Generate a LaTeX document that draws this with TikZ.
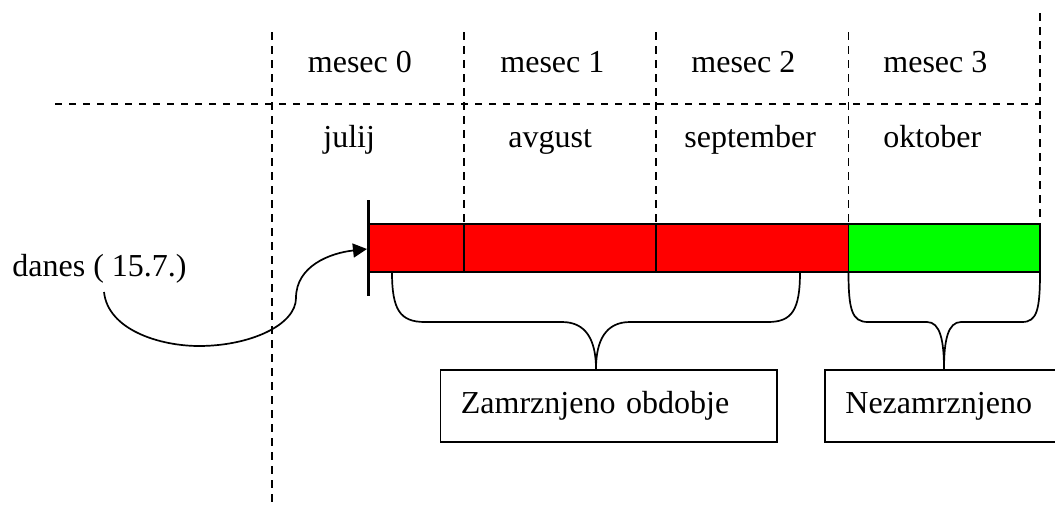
\documentclass[tikz,border=0pt]{standalone}
\usepackage{fontspec}
\setmainfont{Liberation Serif}
\usetikzlibrary{arrows.meta}
\definecolor{barred}{RGB}{255,0,0}
\definecolor{bargreen}{RGB}{0,255,0}
\begin{document}
\begin{tikzpicture}[x=0.5pt,y=-0.5pt,
  vdash/.style={line width=0.95pt, dash pattern=on 4pt off 3pt},
  hdash/.style={line width=0.95pt, dash pattern=on 3.6pt off 3.4pt},
  lbl/.style={inner sep=0pt, anchor=base west, font=\fontsize{16}{19}\selectfont},
  thin line/.style={line width=0.85pt},
  labelbox/.style={draw, line width=0.9pt, anchor=north west, minimum height=36pt,
    inner xsep=10.25pt, inner ysep=0pt, align=left, font=\fontsize{16}{19}\selectfont},
]
\useasboundingbox (0,0) rectangle (1055,509);

% grid
\draw[vdash] (272,32) -- (272,507);
\draw[vdash] (464,32) -- (464,224);
\draw[vdash] (656,32) -- (656,224);
\draw[vdash] (848.5,32) -- (848.5,224);
\draw[vdash] (1040,13) -- (1040,224);
\draw[hdash] (55,104) -- (1040,104);

% header labels
\node[lbl] (m0) at (307.5,72) {mesec 0};
\node[lbl] (m1) at (500,72) {mesec 1};
\node[lbl] (m2) at (691,72) {mesec 2};
\node[lbl] (m3) at (883,72) {mesec 3};
\node[lbl] (jul) at (323,147) {julij};
\node[lbl] (avg) at (508,147) {avgust};
\node[lbl] (sep) at (684,147) {september};
\node[lbl] (okt) at (883,147) {oktober};
\node[lbl] (danes) at (12,276) {danes ( 15.7.)};

% bar
\fill[barred] (368.5,224) rectangle (848.5,272);
\fill[bargreen] (848.5,224) rectangle (1040,272);
\draw[thin line] (368.5,224) rectangle (1040,272);
\draw[thin line] (464,224) -- (464,272);
\draw[thin line] (656,224) -- (656,272);
\draw[thin line] (848.5,224) -- (848.5,272);

% today marker
\coordinate (todayTop) at (368.5,200);
\coordinate (todayBot) at (368.5,296);
\draw[line width=1.7pt] (todayTop) -- (todayBot);

% arrow from "danes"
\coordinate (danesFoot) at (104,292);
\coordinate (todayTip) at (367,249);
\draw[thin line, -{Triangle[length=7pt,width=7pt]}] (danesFoot)
  .. controls (108,330) and (160,346) .. (199,346)
  .. controls (250,346) and (296,325) .. (296,298)
  .. controls (296,266) and (330,253) .. (todayTip);

% boxes
\node[labelbox, minimum width=168.25pt, text width=147.75pt] (zb) at (439.5,369) {Zamrznjeno obdobje};
\node[labelbox, minimum width=120pt, text width=99.5pt] (nb) at (824,369) {Nezamrznjeno};

% braces
\coordinate (tip1) at (596,369);
\coordinate (tip2) at (944,369);
\draw[thin line] (392,272) .. controls (392,310) and (400,322) .. (425,322) -- (562,322)
  .. controls (586,322) and (596,340) .. (tip1);
\draw[thin line] (800,272) .. controls (800,310) and (792,322) .. (768,322) -- (630,322)
  .. controls (606,322) and (596,340) .. (tip1);
\draw[thin line] (848.5,272) .. controls (848.5,310) and (852,322) .. (868,322) -- (927,322)
  .. controls (940,322) and (944,340) .. (tip2);
\draw[thin line] (1040,272) .. controls (1040,310) and (1037,322) .. (1022,322) -- (961,322)
  .. controls (948,322) and (944,340) .. (tip2);
\end{tikzpicture}
\end{document}
